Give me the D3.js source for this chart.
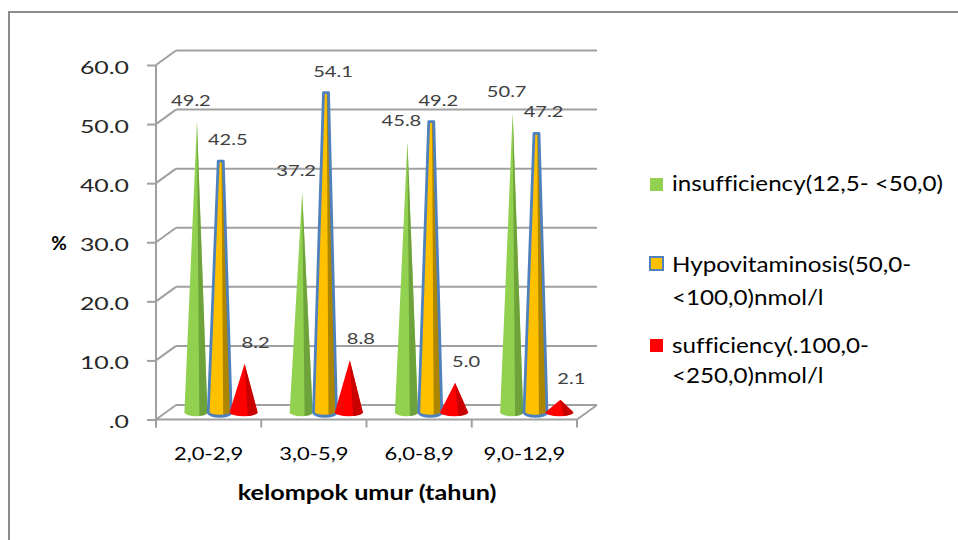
<!DOCTYPE html>
<html><head><meta charset="utf-8">
<script src="https://cdn.jsdelivr.net/npm/d3@7"></script>
<style>body{margin:0;background:#fff} text{font-variant-ligatures:none;font-feature-settings:"liga" 0;}</style>
</head><body><svg id="c" width="958" height="540"></svg>
<script>
const categories = ["2,0-2,9","3,0-5,9","6,0-8,9","9,0-12,9"];
const seriesKeys = ["insufficiency","hypovitaminosis","sufficiency"];
const insufficiency = [49.2,37.2,45.8,50.7];
const hypovitaminosis = [42.5,54.1,49.2,47.2];
const sufficiency = [8.2,8.8,5.0,2.1];
const yTicks = [0,10,20,30,40,50,60];
const yTickLabels = [".0","10.0","20.0","30.0","40.0","50.0","60.0"];
const legendLines = [["insufficiency(12,5- <50,0)"],["Hypovitaminosis(50,0-","<100,0)nmol/l"],["sufficiency(.100,0-","<250,0)nmol/l"]];
const yTitle = "%";
const xTitle = "kelompok umur (tahun)";

const values = {insufficiency, hypovitaminosis, sufficiency};
const styles = {
  insufficiency:{fill:"#92D050", dark:"#679A36", stroke:null, r:11.5, lx:-6, top:0},
  hypovitaminosis:{fill:"#FFC000", dark:"#9E7B00", stroke:"#4F81BD", r:11.5, lx:7, top:2.5},
  sufficiency:{fill:"#FF0000", dark:"#C00000", stroke:null, r:14, lx:11, top:0}
};

const svg = d3.select("#c");
const font = "Lato, 'Open Sans', sans-serif";
const grid = "#A0A0A0";
const DX = 20, DY = 14.5;

// outer frame
svg.append("rect").attr("x",9).attr("y",12).attr("width",980).attr("height",560)
  .attr("fill","none").attr("stroke","#8C8C8C").attr("stroke-width",2);

const x0 = d3.scaleBand().domain(categories).range([156,577]);
const x1 = d3.scaleBand().domain(seriesKeys).range([18,89.5]);
const y = d3.scaleLinear().domain([0,60]).range([419.5,65]);

function stretch(sel, x, yy, sx){ sel.attr("transform",`translate(${x},${yy}) scale(${sx},1)`); return sel; }

// gridlines (back wall + side)
const g = svg.append("g");
yTicks.forEach(t=>{
  const yy = y(t);
  g.append("line").attr("x1",156+DX).attr("x2",577+DX).attr("y1",yy-DY).attr("y2",yy-DY)
    .attr("stroke",grid).attr("stroke-width",2);
  g.append("line").attr("x1",156).attr("x2",156+DX).attr("y1",yy).attr("y2",yy-DY)
    .attr("stroke",grid).attr("stroke-width",2);
});
g.append("line").attr("x1",156).attr("x2",577).attr("y1",y(0)).attr("y2",y(0)).attr("stroke",grid).attr("stroke-width",2);
g.append("line").attr("x1",577).attr("x2",577+DX).attr("y1",y(0)).attr("y2",y(0)-DY).attr("stroke",grid).attr("stroke-width",2);

// y axis
const yAxis = d3.axisLeft(y).tickValues(yTicks).tickSize(9).tickFormat("");
const ya = svg.append("g").attr("transform","translate(156,0)").call(yAxis);
ya.select(".domain").attr("stroke",grid).attr("stroke-width",2).attr("d",`M0,${y(60)}V${y(0)+8}`);
ya.selectAll(".tick line").attr("stroke",grid).attr("stroke-width",2);
yTicks.forEach((t,i)=>{
  stretch(svg.append("text"),129,y(t)+8.5,1.42).attr("text-anchor","end")
    .attr("font-family",font).attr("font-size",17.5).attr("fill","#262626").text(yTickLabels[i]);
});

// x axis ticks
const xAxis = d3.axisBottom(x0).tickSize(0).tickFormat("");
const xa = svg.append("g").attr("transform",`translate(0,${y(0)})`).call(xAxis);
xa.select(".domain").remove();
const bounds = categories.map(c=>x0(c)).concat([x0(categories[3])+x0.bandwidth()]);
bounds.forEach(b=>{
  xa.append("line").attr("x1",b).attr("x2",b).attr("y1",0).attr("y2",8).attr("stroke",grid).attr("stroke-width",2);
});
categories.forEach(c=>{
  stretch(svg.append("text"),x0(c)+x0.bandwidth()/2,460,1.22).attr("text-anchor","middle")
    .attr("font-family",font).attr("font-size",18).attr("fill","#000").text(c);
});

// cones
const baseY = y(0) - DY/2, ry = 4;
categories.forEach((c,ci)=>{
  seriesKeys.forEach(k=>{
    const st = styles[k], v = values[k][ci];
    const bx = x0(c) + x1(k) + x1.bandwidth()/2 + DX/2;
    const ax = bx + 1, ay = y(v) - DY/2;
    const r = st.r, tp = st.top;
    const outline = `M${bx-r},${baseY} L${ax-tp},${ay} L${ax+tp},${ay} L${bx+r},${baseY} A${r},${ry} 0 0 1 ${bx-r},${baseY} Z`;
    svg.append("path").attr("d",outline).attr("fill",st.fill);
    const f = 0.3, yb = baseY + ry*Math.sqrt(1-f*f);
    svg.append("path").attr("d",`M${bx+r*f},${yb} L${ax+tp*0.3},${ay} L${ax+tp},${ay} L${bx+r},${baseY} A${r},${ry} 0 0 1 ${bx+r*f},${yb} Z`)
      .attr("fill",st.dark).attr("opacity",0.85);
    if(st.stroke){
      svg.append("path").attr("d",outline).attr("fill","none").attr("stroke",st.stroke)
        .attr("stroke-width",2.8).attr("stroke-linejoin","round");
    }
    stretch(svg.append("text"),ax+st.lx,ay-16,1.34).attr("text-anchor","middle")
      .attr("font-family",font).attr("font-size",15).attr("fill","#404040").text(v.toFixed(1));
  });
});

// titles
svg.append("text").attr("x",59).attr("y",250).attr("text-anchor","middle").attr("font-family",font)
  .attr("font-weight","bold").attr("font-size",19).attr("fill","#000").text(yTitle);
stretch(svg.append("text"),367,500,1.2).attr("text-anchor","middle").attr("font-family",font)
  .attr("font-weight","bold").attr("font-size",21).attr("fill","#000").text(xTitle);

// legend
const legY = [[191],[272,305],[353,383]];
const sqY = [178,257,339];
seriesKeys.forEach((k,i)=>{
  const st = styles[k];
  svg.append("rect").attr("x",650).attr("y",sqY[i]).attr("width",13).attr("height",13)
    .attr("fill",st.fill).attr("stroke",st.stroke||"none").attr("stroke-width",st.stroke?2:0);
  legendLines[i].forEach((ln,j)=>{
    stretch(svg.append("text"),672,legY[i][j],1.1).attr("font-family",font)
      .attr("font-size",22).attr("fill","#000").text(ln);
  });
});
</script></body></html>
